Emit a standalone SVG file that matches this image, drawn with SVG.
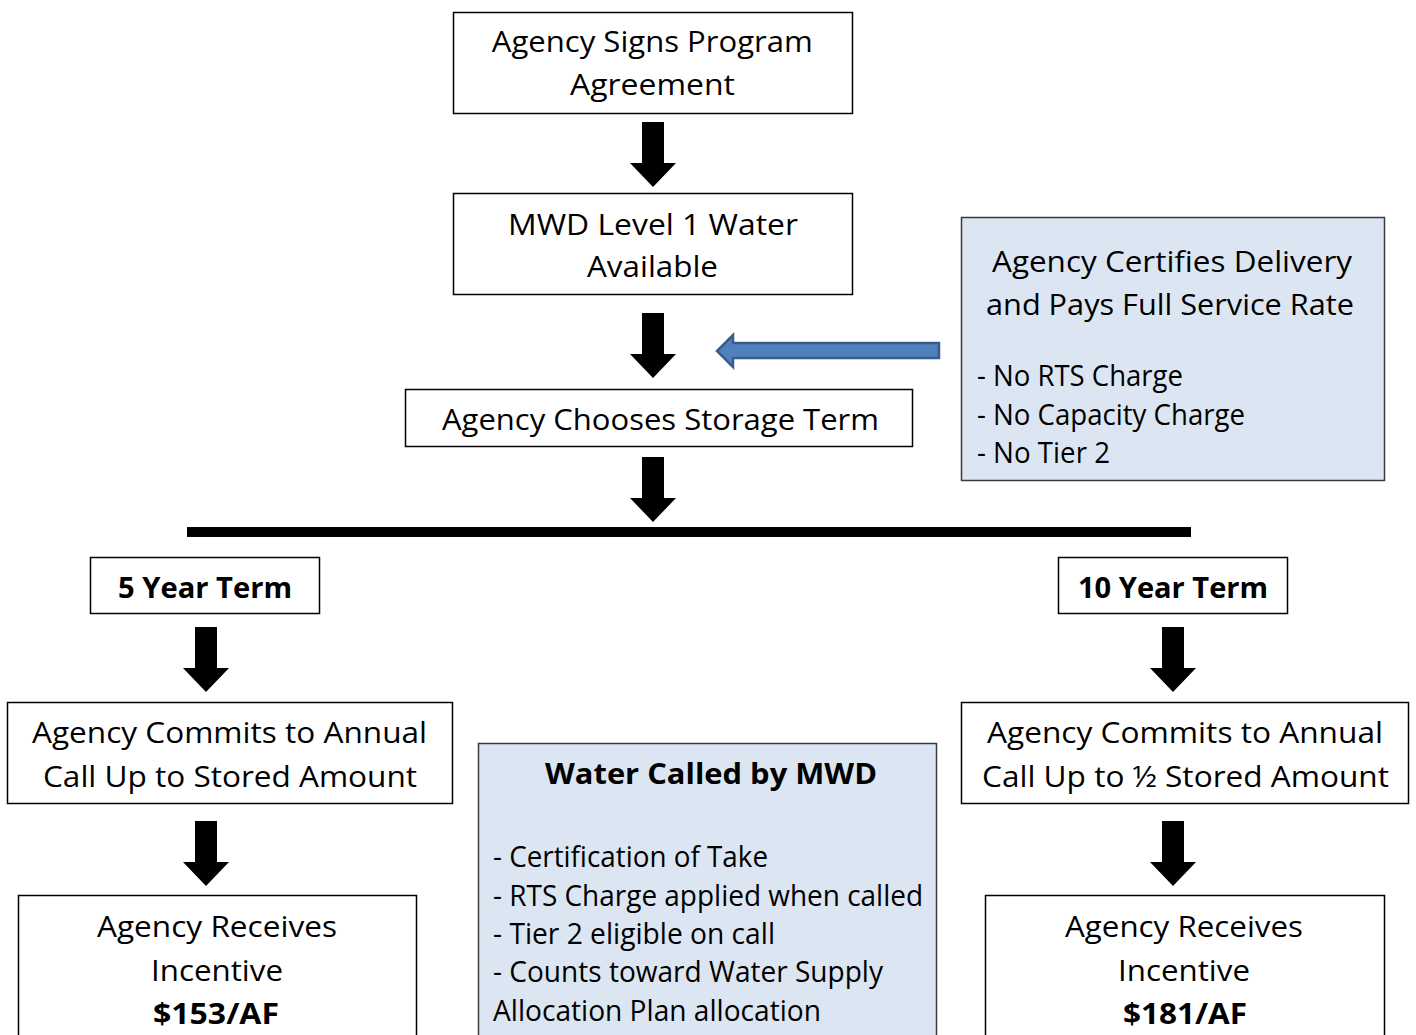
<svg xmlns="http://www.w3.org/2000/svg" width="1416" height="1035" viewBox="0 0 1416 1035">
<defs>
<style>
.box{fill:#ffffff;stroke:#000000;stroke-width:1.5}
.note{fill:#dce6f2;stroke:#3a3a3a;stroke-width:1.5}
text{font-family:"Open Sans","Noto Sans",sans-serif;font-size:29px;fill:#000}
.c{text-anchor:middle}
.b{font-weight:bold}
.down{fill:#000}
</style>
<path id="dn" d="M-11,0 H11 V41 H23 L0,65 L-23,41 H-11 Z"/>
</defs>
<rect width="1416" height="1035" fill="#ffffff"/>
<g id="connectors">
<use href="#dn" class="down" x="653" y="122"/>
<use href="#dn" class="down" x="653" y="313"/>
<use href="#dn" class="down" x="653" y="457"/>
<use href="#dn" class="down" x="206" y="627"/>
<use href="#dn" class="down" x="1173" y="627"/>
<use href="#dn" class="down" x="206" y="821"/>
<use href="#dn" class="down" x="1173" y="821"/>
<rect x="187" y="527" width="1004" height="10" fill="#000"/>
<path d="M939,343 V358 H733 V367 L717,351 L733,335 V343 Z" fill="#4f81bd" stroke="#385d8a" stroke-width="2.5"/>
</g>
<g id="n-sign">
<rect class="box" x="453.5" y="12.5" width="399" height="101"/>
<text class="c" x="652.3" y="52" textLength="321" lengthAdjust="spacingAndGlyphs">Agency Signs Program</text>
<text class="c" x="652.5" y="95" textLength="165" lengthAdjust="spacingAndGlyphs">Agreement</text>
</g>
<g id="n-level1">
<rect class="box" x="453.5" y="193.5" width="399" height="101"/>
<text class="c" x="653" y="235" textLength="290" lengthAdjust="spacingAndGlyphs">MWD Level 1 Water</text>
<text class="c" x="652.5" y="277" textLength="131" lengthAdjust="spacingAndGlyphs">Available</text>
</g>
<g id="n-choose">
<rect class="box" x="405.5" y="389.5" width="507" height="57"/>
<text class="c" x="660.5" y="430" textLength="437" lengthAdjust="spacingAndGlyphs">Agency Chooses Storage Term</text>
</g>
<g id="n-certify">
<rect class="note" x="961.5" y="217.5" width="423" height="263"/>
<text class="c" x="1172" y="272" textLength="360" lengthAdjust="spacingAndGlyphs">Agency Certifies Delivery</text>
<text class="c" x="1170" y="315" textLength="368" lengthAdjust="spacingAndGlyphs">and Pays Full Service Rate</text>
<text x="977" y="386" textLength="206" lengthAdjust="spacingAndGlyphs">- No RTS Charge</text>
<text x="977" y="425" textLength="268" lengthAdjust="spacingAndGlyphs">- No Capacity Charge</text>
<text x="977" y="463" textLength="133" lengthAdjust="spacingAndGlyphs">- No Tier 2</text>
</g>
<g id="n-5yr">
<rect class="box" x="90.5" y="557.5" width="229" height="56"/>
<text class="c b" x="205" y="598" textLength="174" lengthAdjust="spacingAndGlyphs">5 Year Term</text>
</g>
<g id="n-10yr">
<rect class="box" x="1058.5" y="557.5" width="229" height="56"/>
<text class="c b" x="1173" y="598" textLength="190" lengthAdjust="spacingAndGlyphs">10 Year Term</text>
</g>
<g id="n-commit5">
<rect class="box" x="7.5" y="702.5" width="445" height="101"/>
<text class="c" x="229.5" y="743" textLength="395" lengthAdjust="spacingAndGlyphs">Agency Commits to Annual</text>
<text class="c" x="230" y="787" textLength="374" lengthAdjust="spacingAndGlyphs">Call Up to Stored Amount</text>
</g>
<g id="n-commit10">
<rect class="box" x="961.5" y="702.5" width="447" height="101"/>
<text class="c" x="1185" y="743" textLength="396" lengthAdjust="spacingAndGlyphs">Agency Commits to Annual</text>
<text class="c" x="1185.5" y="787" textLength="407" lengthAdjust="spacingAndGlyphs">Call Up to ½ Stored Amount</text>
</g>
<g id="n-incent5">
<rect class="box" x="18.5" y="895.5" width="398" height="150"/>
<text class="c" x="217" y="937" textLength="240" lengthAdjust="spacingAndGlyphs">Agency Receives</text>
<text class="c" x="217" y="981" textLength="132" lengthAdjust="spacingAndGlyphs">Incentive</text>
<text class="c b" x="216" y="1024" textLength="126" lengthAdjust="spacingAndGlyphs">$153/AF</text>
</g>
<g id="n-incent10">
<rect class="box" x="985.5" y="895.5" width="399" height="150"/>
<text class="c" x="1184" y="937" textLength="238" lengthAdjust="spacingAndGlyphs">Agency Receives</text>
<text class="c" x="1184" y="981" textLength="132" lengthAdjust="spacingAndGlyphs">Incentive</text>
<text class="c b" x="1185" y="1024" textLength="124" lengthAdjust="spacingAndGlyphs">$181/AF</text>
</g>
<g id="n-called">
<rect class="note" x="478.5" y="743.5" width="458" height="300"/>
<text class="c b" x="711" y="784" textLength="332" lengthAdjust="spacingAndGlyphs">Water Called by MWD</text>
<text x="493" y="867" textLength="275" lengthAdjust="spacingAndGlyphs">- Certification of Take</text>
<text x="493" y="905.5" textLength="430" lengthAdjust="spacingAndGlyphs">- RTS Charge applied when called</text>
<text x="493" y="944" textLength="282" lengthAdjust="spacingAndGlyphs">- Tier 2 eligible on call</text>
<text x="493" y="982" textLength="390" lengthAdjust="spacingAndGlyphs">- Counts toward Water Supply</text>
<text x="493" y="1021" textLength="328" lengthAdjust="spacingAndGlyphs">Allocation Plan allocation</text>
</g>
</svg>
